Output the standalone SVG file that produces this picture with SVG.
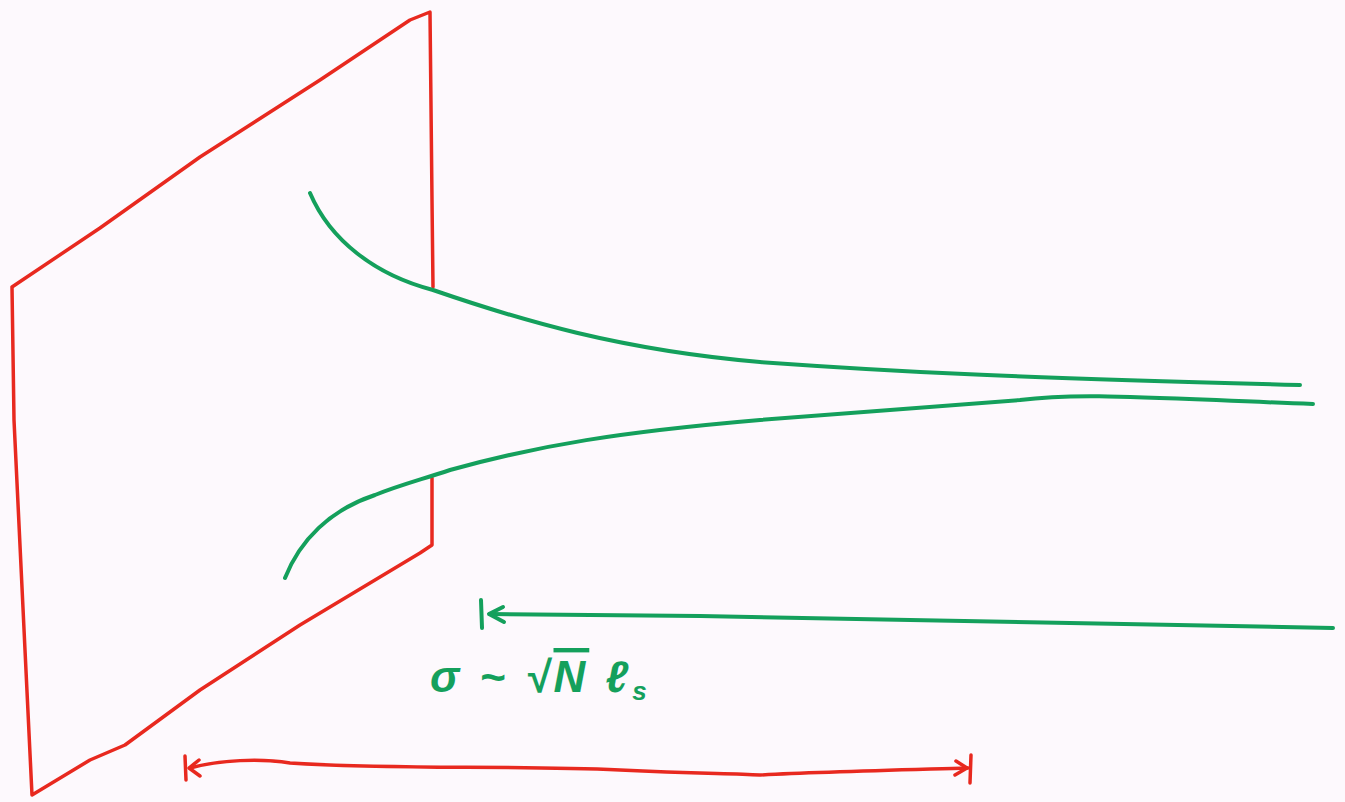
<svg xmlns="http://www.w3.org/2000/svg" width="1345" height="802" viewBox="0 0 1345 802">
<style>
.red{fill:none;stroke:#e8291f;stroke-width:3.5;stroke-linecap:round;stroke-linejoin:round}
.green{fill:none;stroke:#14a05c;stroke-width:4;stroke-linecap:round;stroke-linejoin:round}
.lbl{fill:#14a05c;font-family:"Liberation Sans",sans-serif;font-weight:bold;font-style:italic}
</style>
<rect width="1345" height="802" fill="#fdf9fd"/>
<g id="plane">
<path class="red" d="M433,287 L432,200 L430,12 L410,20 L320,80 L200,157 L100,228 L12,287 L14,420 L25,650 L32,795 L90,760 L125,745 L200,690 L300,625 L420,553 L432,545 L432,478"/>
</g>
<g id="connectors">
<path class="green" d="M310,193 C330,240 375,275 433,290 C520,320 620,350 760,362 C900,372 1000,377 1300,385"/>
<path class="green" d="M285,578 C300,540 330,510 375,495 C400,485 420,480 450,470 C540,445 620,432 760,420 C880,410 960,405 1020,400 C1080,392 1150,398 1313,404"/>
<path class="green" d="M1333,628 C1100,622 900,618 700,616 L490,614"/>
<path class="green" d="M503,607 L489,614 L504,622"/>
<path class="green" stroke-width="6" d="M481,600 L482,628"/>
<path class="red" d="M190,768 C220,760 260,758 290,763 C400,770 500,765 620,770 C700,774 730,773 760,775 C820,772 900,770 968,768"/>
<path class="red" d="M185,756 L186,780"/>
<path class="red" d="M199,760 L189,768 L200,776"/>
<path class="red" d="M971,755 L970,783"/>
<path class="red" d="M956,761 L967,768 L955,775"/>
</g>
<g id="label">
<text class="lbl" x="430" y="692" font-size="44" letter-spacing="4">σ ~ √<tspan text-decoration="overline">N</tspan> ℓ<tspan font-size="26" dy="8">s</tspan></text>
</g>
</svg>
